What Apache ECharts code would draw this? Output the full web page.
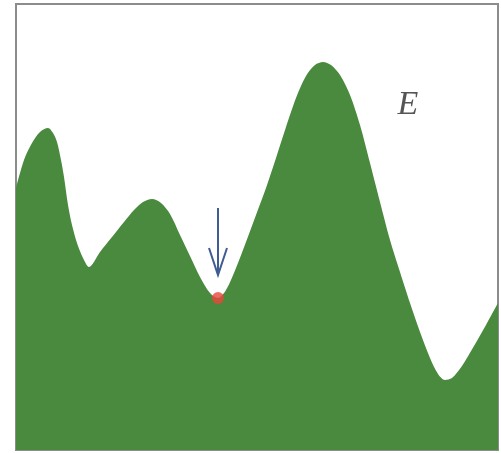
<!DOCTYPE html>
<html>
<head>
<meta charset="utf-8">
<style>
  html, body { margin: 0; padding: 0; background: #fff; }
  #chart { width: 501px; height: 453px; }
</style>
<script src="https://cdn.jsdelivr.net/npm/echarts@6/dist/echarts.min.js"></script>
</head>
<body>
<div id="chart"></div>
<script>
// energy landscape
const xs = [0, 8, 16, 24, 32, 37, 41, 45, 48, 52, 56, 61, 67, 73, 84, 96, 108, 118, 127, 136,
  145, 154, 164, 174, 184, 194, 202, 210, 220, 230, 240, 250, 260, 270, 280, 290, 299, 307, 315, 324,
  334, 344, 354, 364, 374, 384, 394, 404, 414, 422, 429, 436, 446, 458, 470, 482]
const ys = [262, 290, 307, 318, 322, 317, 308, 290, 273, 245, 225, 207, 192, 183, 198, 213, 228, 240, 248, 251,
  247, 236, 215, 194, 173, 157, 152, 160, 182, 208, 235, 262, 292, 323, 352, 374, 385, 388, 385, 375,
  355, 325, 287, 248, 210, 178, 147, 118, 92, 76, 70, 72, 84, 104, 125, 147]
const minPoint = [202, 152]
const arrowFrom = [202, 242]
const arrowTo = [202, 175]
const labelText = 'E'
const labelAt = [392, 345]

const chart = echarts.init(document.getElementById('chart'))

chart.setOption({
  animation: false,
  grid: {
    left: 16,
    top: 4,
    width: 482,
    height: 446,
    show: true,
    borderColor: '#8c8c8c',
    borderWidth: 2,
    backgroundColor: '#fff'
  },
  xAxis: {
    type: 'value',
    min: 0,
    max: 482,
    show: false
  },
  yAxis: {
    type: 'value',
    min: 0,
    max: 446,
    show: false
  },
  series: [{
    type: 'line',
    data: xs.map((x, i) => [x, ys[i]]),
    smooth: 0.3,
    symbol: 'none',
    lineStyle: { width: 0 },
    areaStyle: { color: '#4a8a3e', opacity: 1 },
    z: 2
  }, {
    type: 'scatter',
    data: [minPoint],
    symbolSize: 12,
    itemStyle: { color: '#e8463a' },
    z: 5
  }]
})

// arrow and label placed through the axes
const tail = chart.convertToPixel({ gridIndex: 0 }, arrowFrom)
const tip = chart.convertToPixel({ gridIndex: 0 }, arrowTo)
const lab = chart.convertToPixel({ gridIndex: 0 }, labelAt)

chart.setOption({
  graphic: [{
    type: 'polyline',
    shape: { points: [tail, tip] },
    style: { stroke: '#3f5d91', lineWidth: 2, fill: null },
    z: 10
  }, {
    type: 'polyline',
    shape: { points: [[tip[0] - 9, tip[1] - 27], tip, [tip[0] + 9, tip[1] - 27]] },
    style: { stroke: '#3f5d91', lineWidth: 2, fill: null },
    z: 10
  }, {
    type: 'text',
    x: lab[0],
    y: lab[1],
    style: {
      text: labelText,
      font: 'italic 34px "Liberation Serif", "DejaVu Serif", serif',
      fill: '#555',
      align: 'center',
      verticalAlign: 'middle'
    },
    z: 10
  }]
})
</script>
</body>
</html>
